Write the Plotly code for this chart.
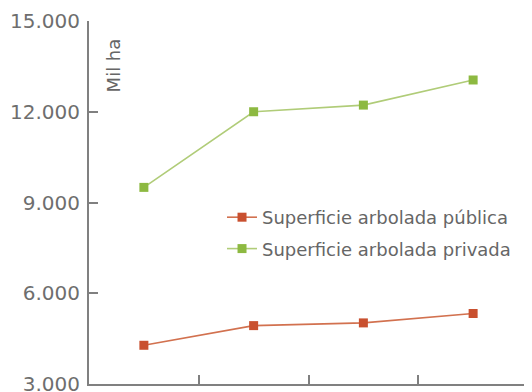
import plotly.graph_objects as go

categories = ["1990", "2000", "2005", "2010"]
publica = [4280, 4930, 5020, 5330]
privada = [9500, 12000, 12220, 13050]
y_ticks = [3000, 6000, 9000, 12000, 15000]
y_tick_labels = ["3.000", "6.000", "9.000", "12.000", "15.000"]

red = "#c9502f"
green = "#8db941"

fig = go.Figure()
fig.add_trace(go.Scatter(
    x=categories, y=publica, mode="lines+markers",
    name="Superficie arbolada pública", legendgroup="a",
    line=dict(color="#d2714f", width=1.6),
    marker=dict(symbol="square", size=9, color=red),
))
fig.add_trace(go.Scatter(
    x=categories, y=privada, mode="lines+markers",
    name="Superficie arbolada privada", legendgroup="b",
    line=dict(color="#b0cc78", width=1.6),
    marker=dict(symbol="square", size=9, color=green),
))

fig.update_layout(
    width=524, height=392,
    margin=dict(l=81, r=4, t=13, b=16, autoexpand=False),
    paper_bgcolor="white", plot_bgcolor="white",
    font=dict(family="DejaVu Sans, sans-serif", color="#606060"),
    showlegend=True,
    legend=dict(
        x=0.303, y=0.416, xanchor="left", yanchor="middle",
        font=dict(size=18, color="#666666"),
        bgcolor="rgba(255,255,255,0)",
        tracegroupgap=5,
        itemwidth=30,
    ),
    annotations=[dict(
        text="Mil ha", x=0.055, y=0.958, xref="paper", yref="paper",
        xanchor="center", yanchor="top", textangle=-90, showarrow=False,
        font=dict(size=18, color="#666666"),
    )],
)
fig.update_xaxes(
    type="category", range=[-0.5, 3.5], automargin=False,
    showline=True, linecolor="#808080", linewidth=2,
    ticks="inside", tickson="boundaries", ticklen=9, tickcolor="#808080", tickwidth=2,
    showticklabels=False, showgrid=False, zeroline=False,
)
fig.update_yaxes(
    range=[3000, 15000], tickvals=y_ticks, ticktext=y_tick_labels, automargin=False,
    showline=True, linecolor="#808080", linewidth=2,
    ticks="inside", ticklen=9, tickcolor="#808080", tickwidth=2,
    ticklabelstandoff=3,
    tickfont=dict(size=20, color="#6e6e6e"),
    showgrid=False, zeroline=False,
)

fig.write_html("out.html")
